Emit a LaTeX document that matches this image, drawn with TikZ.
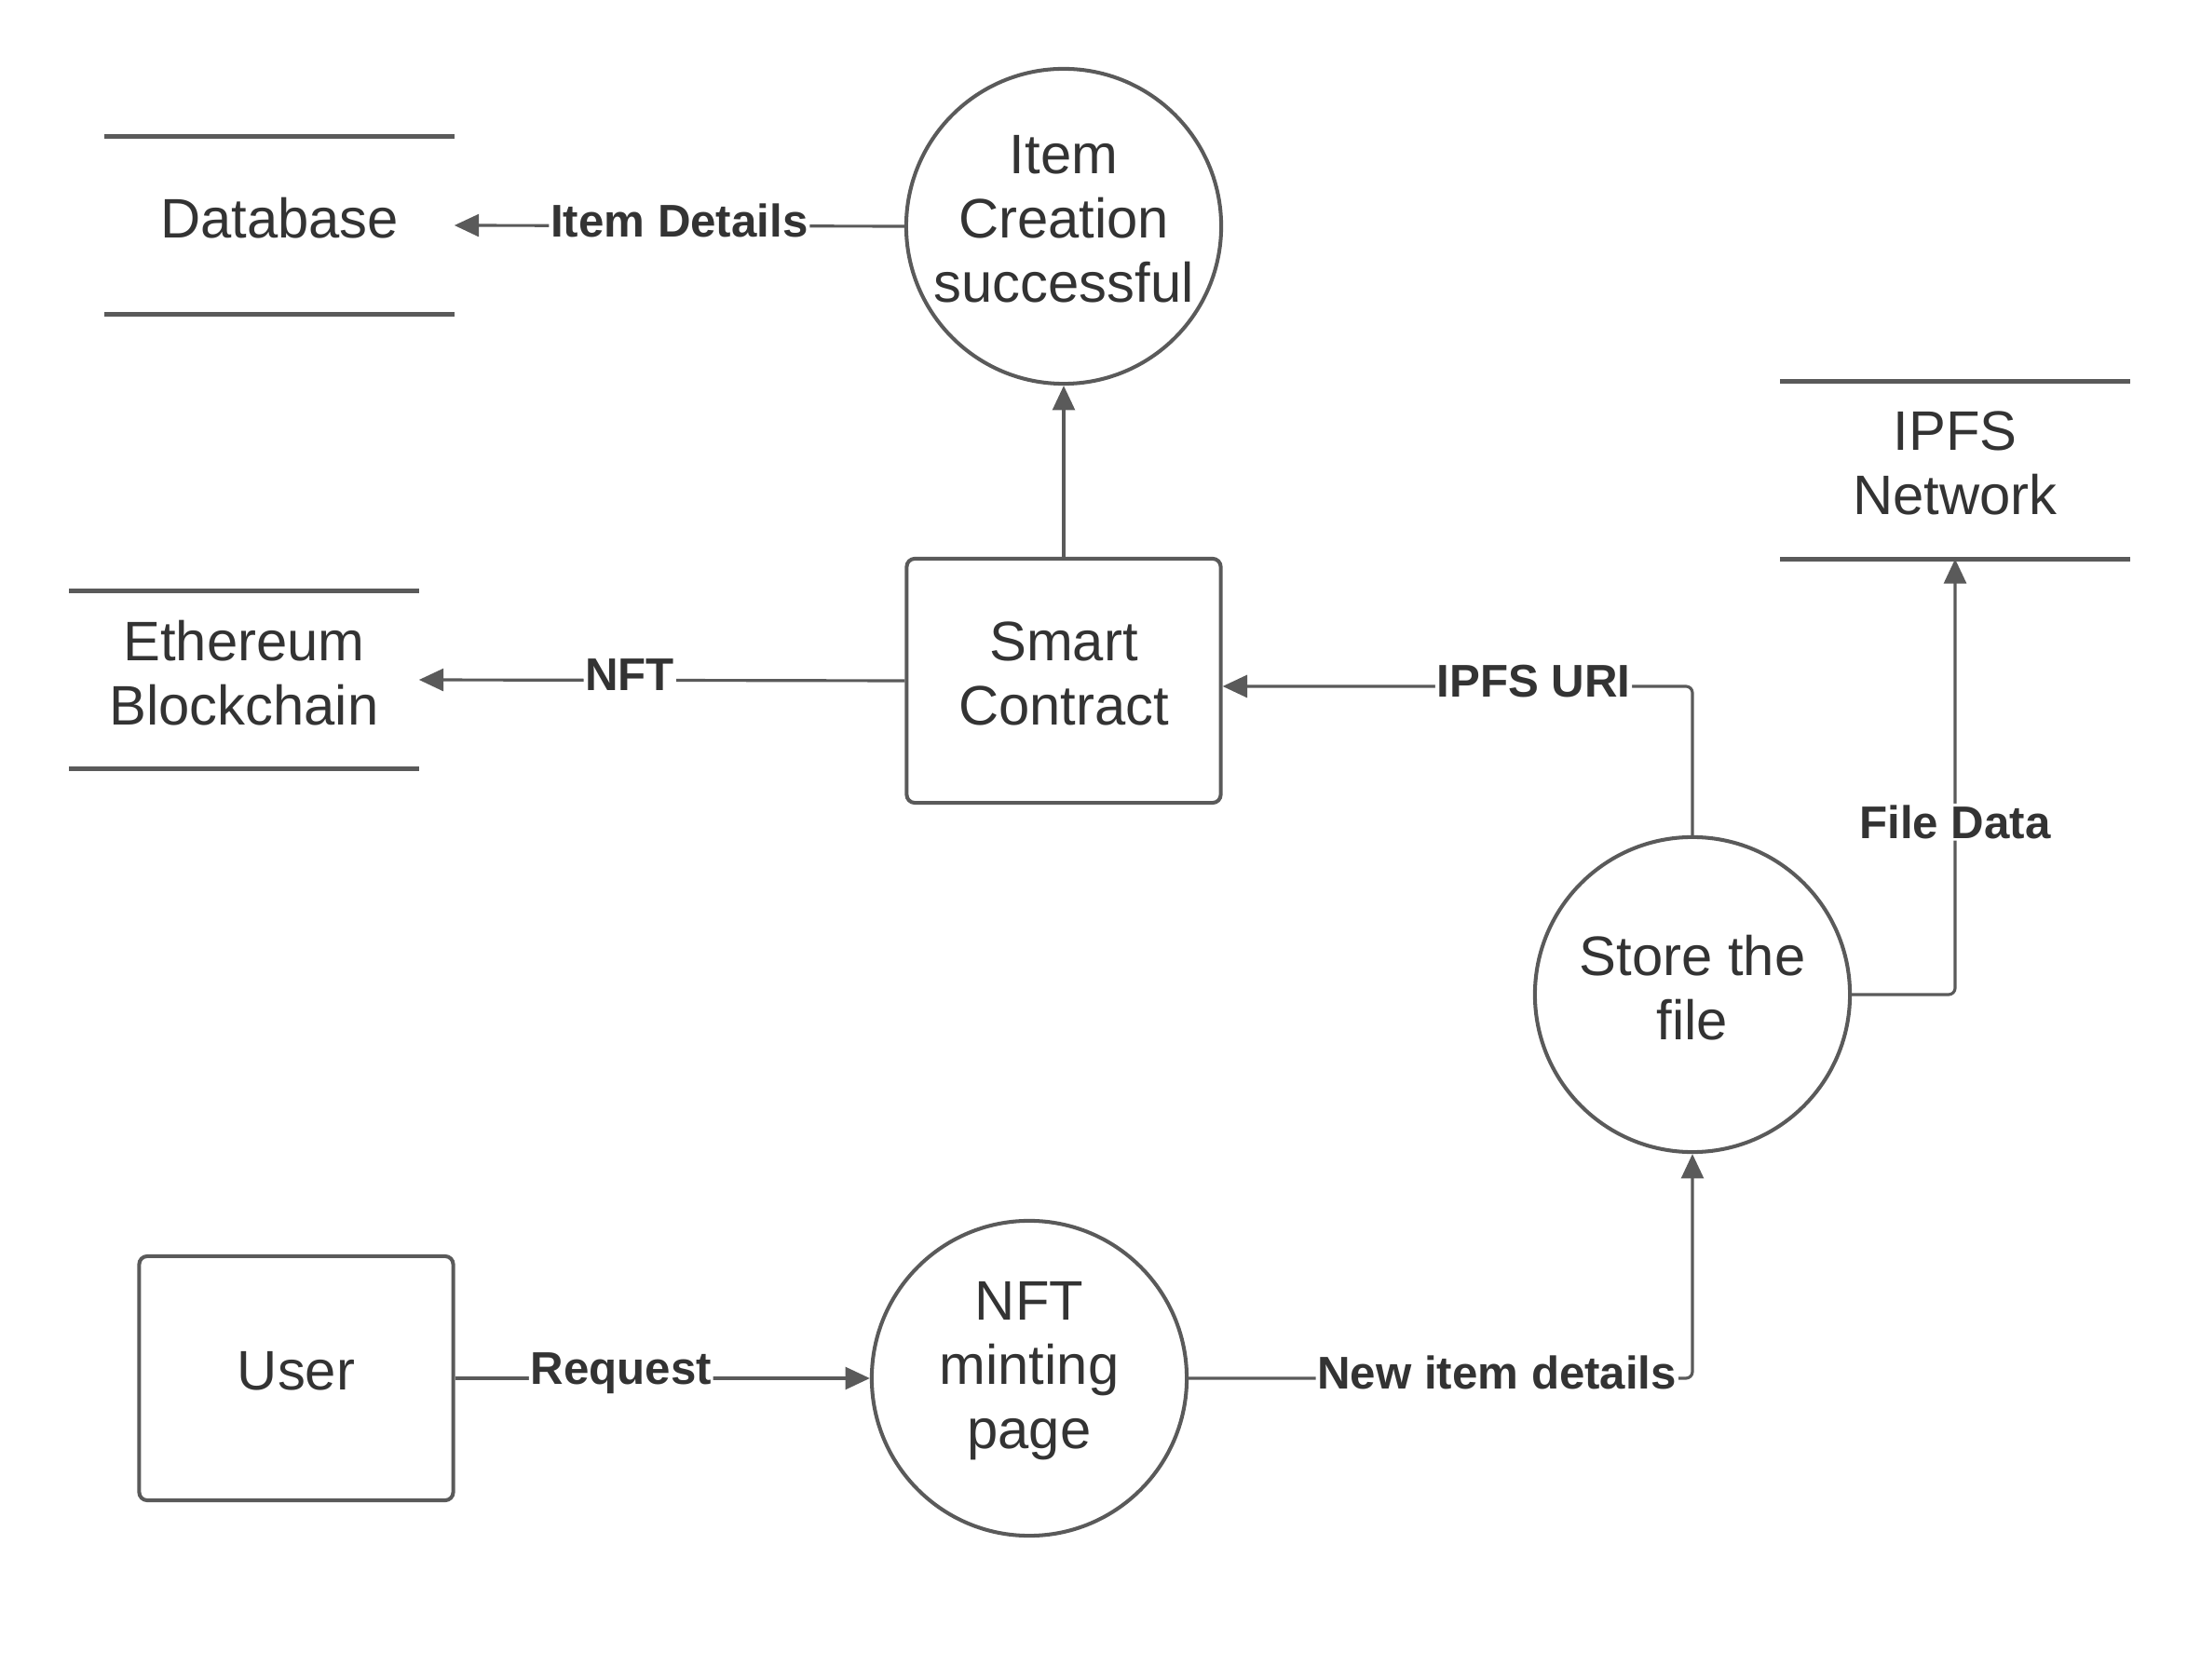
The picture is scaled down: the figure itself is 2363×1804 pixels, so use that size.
\documentclass[tikz,border=0pt]{standalone}
\usepackage{fontspec}
\setmainfont{Liberation Sans}
\usetikzlibrary{arrows.meta,positioning}
\definecolor{ln}{HTML}{5A5A5A}
\definecolor{tx}{HTML}{333333}
\tikzset{
  every node/.style={text=tx},
  ptext/.style={align=center,yshift=2.2pt,inner sep=0pt,text=tx,font=\fontsize{17}{19.6}\selectfont},
  proc/.style={circle,draw=ln,line width=1.15pt,minimum size=3.38cm,inner sep=0pt},
  ent/.style={rectangle,draw=ln,line width=1.15pt,rounded corners=2.5pt,minimum width=3.37cm,minimum height=2.62cm},
  store/.style={rectangle,minimum width=3.74cm,minimum height=1.89cm},
  storeline/.style={draw=ln,line width=1.4pt},
  flow/.style={draw=ln,line width=0.9pt,rounded corners=2pt,-{Triangle[length=7.5pt,width=6.8pt]}},
  lbl/.style={fill=white,inner sep=0.5pt,yshift=1.6pt,font=\fontsize{14}{16}\selectfont\bfseries},
}
\begin{document}
\begin{tikzpicture}[x=0.01cm,y=-0.01cm]
\useasboundingbox (0,0) rectangle (2363,1804);
% stores
\node[store,label={[ptext]center:Database}] (db) at (300,242) {};
\node[store,label={[ptext]center:Ethereum\\Blockchain}] (eth) at (262,730) {};
\node[store,label={[ptext]center:IPFS\\Network}] (ipfs) at (2099,505) {};
\foreach \s in {db,eth,ipfs}{
  \draw[storeline] (\s.north west) -- (\s.north east);
  \draw[storeline] (\s.south west) -- (\s.south east);
}
% processes
\node[proc,label={[ptext]center:Item\\Creation\\successful}] (ic) at (1142,243) {};
\node[proc,label={[ptext]center:Store the\\file}] (sf) at (1817,1068) {};
\node[proc,label={[ptext]center:NFT\\minting\\page}] (mp) at (1105,1480) {};
% entities
\node[ent,label={[ptext]center:Smart\\Contract}] (sc) at (1142,731) {};
\node[ent,label={[ptext]center:User}] (user) at (318,1480) {};
% flows
\draw[flow] (ic.west) -- node[lbl,pos=0.5]{Item Details} (db.east);
\draw[flow] (sc.north) -- (ic.south);
\draw[flow] (sc.west) -- node[lbl,pos=0.566]{NFT} (eth.east);
\draw[flow] (sf.north) |- node[lbl,pos=0.669]{IPFS URI} ([yshift=-1.7pt]sc.east);
\draw[flow] (sf.east) -| node[lbl,pos=0.698,yshift=-1.6pt]{File Data} (ipfs.south);
\draw[flow] (user.east) -- node[lbl,pos=0.40]{Request} (mp.west);
\draw[flow] (mp.east) -| node[lbl,pos=0.306]{New item details} (sf.south);
\end{tikzpicture}
\end{document}
